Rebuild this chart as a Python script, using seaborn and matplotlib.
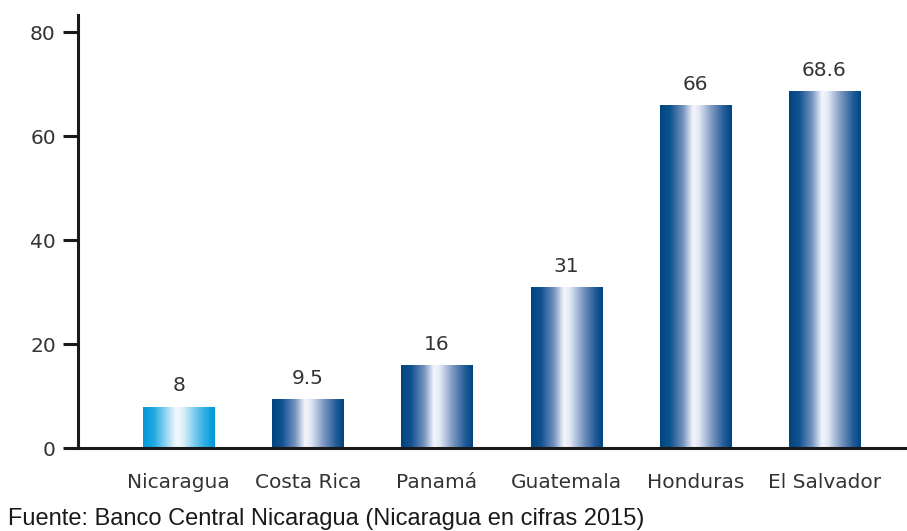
import matplotlib
matplotlib.use("Agg")
import matplotlib.pyplot as plt
from matplotlib.colors import LinearSegmentedColormap
import numpy as np
import pandas as pd
import seaborn as sns

countries = ["Nicaragua", "Costa Rica", "Panamá", "Guatemala", "Honduras", "El Salvador"]
values = [8, 9.5, 16, 31, 66, 68.6]
value_labels = ["8", "9.5", "16", "31", "66", "68.6"]
yticks = [0, 20, 40, 60, 80]
source = "Fuente: Banco Central Nicaragua (Nicaragua en cifras 2015)"

sns.set_theme(style="white")
plt.rcParams["font.family"] = ["DejaVu Sans"]

df = pd.DataFrame({"country": countries, "value": values})

fig = plt.figure(figsize=(9.07, 5.31), dpi=100)
ax = fig.add_axes([0.086, 0.156, 0.914, 0.816])

sns.barplot(data=df, x="country", y="value", ax=ax, width=0.55,
            color="#004a87", linewidth=0, saturation=1)

blue_cmap = LinearSegmentedColormap.from_list(
    "cyl_blue",
    [(0.0, "#00457f"), (0.14, "#0f5290"), (0.32, "#7593bf"),
     (0.46, "#f4f6fb"), (0.54, "#e2e9f4"), (0.72, "#7d98c2"),
     (0.90, "#1f5a96"), (1.0, "#00457f")])
cyan_cmap = LinearSegmentedColormap.from_list(
    "cyl_cyan",
    [(0.0, "#0098d8"), (0.15, "#20a8e0"), (0.46, "#f2f9fd"),
     (0.54, "#e4f3fb"), (0.85, "#30b0e4"), (1.0, "#0098d8")])

grad = np.linspace(0, 1, 256).reshape(1, -1)
for i, patch in enumerate(ax.patches):
    x0, y0 = patch.get_x(), patch.get_y()
    w, h = patch.get_width(), patch.get_height()
    patch.set_facecolor("none")
    cmap = cyan_cmap if countries[i] == "Nicaragua" else blue_cmap
    im = ax.imshow(grad, cmap=cmap, aspect="auto",
                   extent=[x0, x0 + w, y0, y0 + h], zorder=2,
                   interpolation="bicubic")
    im.set_clip_path(patch)
    ax.annotate(value_labels[i], (x0 + w / 2, y0 + h), xytext=(0, 8),
                textcoords="offset points", ha="center", va="bottom",
                fontsize=14.5, color="#333333")

ax.set_xlim(-0.78, 5.64)
ax.set_ylim(0, 83.3)
ax.set_yticks(yticks)
ax.set_xlabel("")
ax.set_ylabel("")

for side in ("top", "right"):
    ax.spines[side].set_visible(False)
for side in ("left", "bottom"):
    ax.spines[side].set_linewidth(2.2)
    ax.spines[side].set_color("#1a1a1a")
    ax.spines[side].set_zorder(3)

ax.tick_params(axis="y", which="both", left=True, length=11, width=2.2,
               color="#1a1a1a", labelsize=14.5, labelcolor="#333333", pad=5)
ax.tick_params(axis="x", bottom=False, labelsize=14.5, labelcolor="#333333", pad=12)

fig.text(0.009, 0.011, source, fontsize=17, color="#1a1a1a",
         family=["Liberation Sans", "DejaVu Sans"], fontstretch="normal",
         ha="left", va="baseline")

fig.savefig("out.png", dpi=100)
